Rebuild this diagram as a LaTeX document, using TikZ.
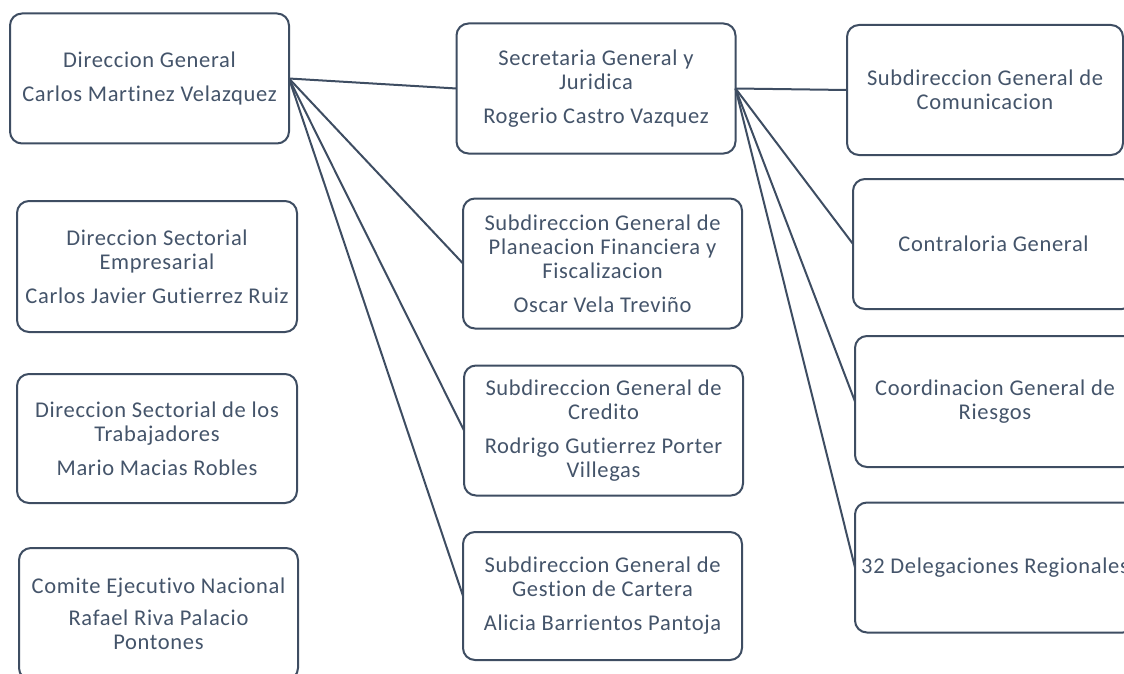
\documentclass[tikz,border=0pt]{standalone}
\usepackage{fontspec}
\setmainfont{Carlito}[LetterSpace=3, Ligatures=NoCommon]
\definecolor{txt}{HTML}{44546A}
\definecolor{ln}{HTML}{3E4D62}
\begin{document}
\begin{tikzpicture}[x=1pt,y=-1pt,
  orgbox/.style={draw=ln, line width=2pt, rounded corners=12pt, fill=white,
    minimum width=279pt, minimum height=130pt, inner sep=0pt, outer sep=0pt,
    align=center, text=txt, font=\fontsize{22.5}{24}\selectfont},
  conn/.style={draw=ln, line width=2pt}]
\useasboundingbox (0,0) rectangle (1124,674);
\node[orgbox] (A) at (149.5,78.5) {Direccion General\\[10pt]Carlos Martinez Velazquez};
\node[orgbox] (B) at (596,88.5) {Secretaria General y\\Juridica\\[10pt]Rogerio Castro Vazquez};
\node[orgbox, minimum width=276pt] (C) at (985,90) {Subdireccion General de\\Comunicacion};
\node[orgbox, minimum width=281pt] (D) at (993.5,244) {Contraloria General};
\node[orgbox, minimum width=280pt, minimum height=131pt] (E) at (995,401.5) {Coordinacion General de\\Riesgos};
\node[orgbox, minimum width=280pt] (F) at (995,567.5) {32 Delegaciones Regionales};
\node[orgbox, minimum width=280pt, minimum height=131pt] (G) at (157,266.5) {Direccion Sectorial\\Empresarial\\[10pt]Carlos Javier Gutierrez Ruiz};
\node[orgbox, minimum width=280pt, minimum height=129pt] (H) at (157,438.5) {Direccion Sectorial de los\\Trabajadores\\[10pt]Mario Macias Robles};
\node[orgbox, minimum width=279pt, minimum height=132pt] (I) at (158.5,614) {Comite Ejecutivo Nacional\\[8pt]Rafael Riva Palacio\\Pontones};
\node[orgbox] (J) at (602.5,263.5) {Subdireccion General de\\Planeacion Financiera y\\Fiscalizacion\\[10pt]Oscar Vela Treviño};
\node[orgbox] (K) at (603.5,430.5) {Subdireccion General de\\Credito\\[10pt]Rodrigo Gutierrez Porter\\Villegas};
\node[orgbox, minimum height=128pt] (L) at (602.5,596) {Subdireccion General de\\Gestion de Cartera\\[10pt]Alicia Barrientos Pantoja};
\draw[conn] (A.east) -- (B.west);
\draw[conn] (A.east) -- (J.west);
\draw[conn] (A.east) -- (K.west);
\draw[conn] (A.east) -- (L.west);
\draw[conn] (B.east) -- (C.west);
\draw[conn] (B.east) -- (D.west);
\draw[conn] (B.east) -- (E.west);
\draw[conn] (B.east) -- (F.west);
\end{tikzpicture}
\end{document}
